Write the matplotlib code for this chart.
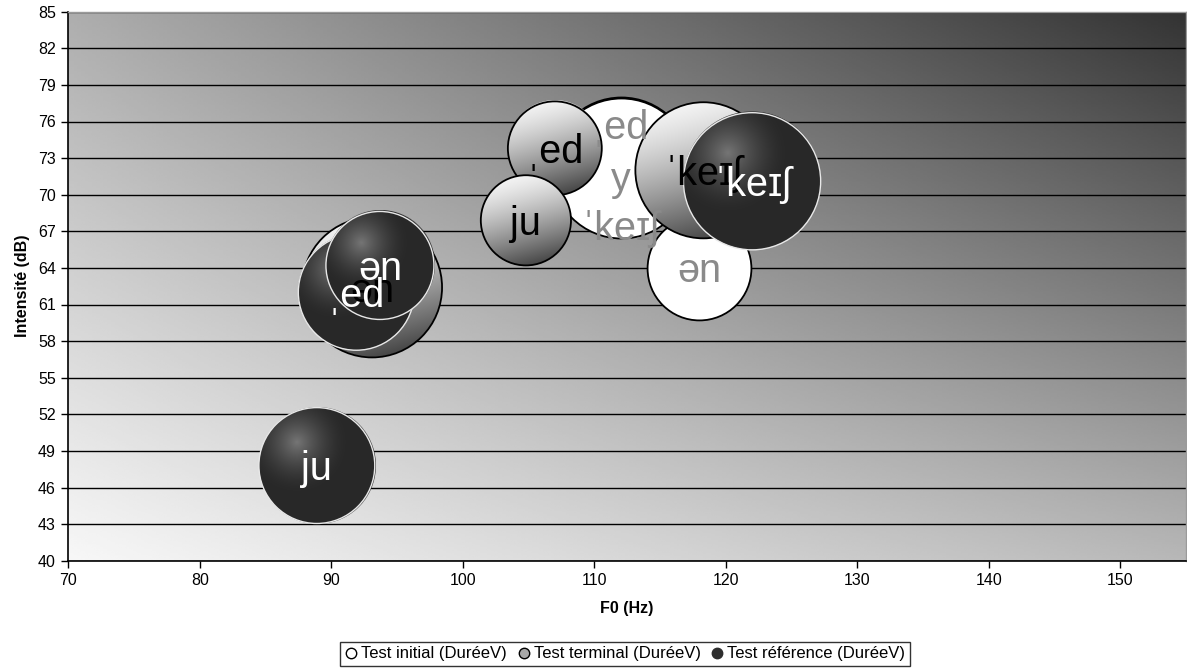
import numpy as np
import matplotlib
matplotlib.use("Agg")
import matplotlib.pyplot as plt
from matplotlib.lines import Line2D

plt.rcParams['font.family'] = ['Liberation Sans', 'DejaVu Sans']

# ---------------- data ----------------
init_labels = ["ˌed", "y", "ˈkeɪʃ", "ən"]
init_f0 = [112.0, 112.0, 112.0, 118.0]
init_db = [72.3, 72.5, 72.2, 64.0]
init_dur = [200, 165, 200, 110]

term_labels = ["ən", "ˌed", "ju", "ˈkeɪʃ"]
term_f0 = [93.1, 107.0, 104.8, 118.3]
term_db = [62.4, 73.8, 67.9, 72.0]
term_dur = [200, 90, 83, 189]

ref_labels = ["ju", "ˌed", "ən", "ˈkeɪʃ"]
ref_f0 = [88.9, 91.9, 93.7, 122.0]
ref_db = [47.8, 62.0, 64.2, 71.1]
ref_dur = [137, 137, 119, 192]

series_names = ["Test initial (DuréeV)", "Test terminal (DuréeV)", "Test référence (DuréeV)"]
x_ticks = list(range(70, 151, 10))
y_ticks = list(range(40, 86, 3))

# ---------------- figure ----------------
W, H, DPI = 1187, 671, 100
fig = plt.figure(figsize=(W / DPI, H / DPI), dpi=DPI)
fig.patch.set_facecolor("white")
ax = fig.add_axes([68.3 / W, 1 - 560.7 / H, (1186 - 68.3) / W, (560.7 - 11.7) / H])
ax.set_xlim(70, 155)
ax.set_ylim(40, 85)
ax.set_autoscale_on(False)

# background diagonal gradient
n = 300
u = np.linspace(0, 1, n)[None, :]
v = np.linspace(1, 0, n)[:, None]
bl, tl, br, tr = 0.97, 0.68, 0.72, 0.20
bg = bl * (1 - u) * (1 - v) + tl * (1 - u) * v + br * u * (1 - v) + tr * u * v
ax.imshow(bg, cmap="gray", vmin=0, vmax=1, extent=[0, 1, 0, 1], transform=ax.transAxes,
          aspect="auto", zorder=0.1, interpolation="bilinear")

ax.set_axisbelow(True)
ax.yaxis.grid(True, color="black", lw=1)
ax.xaxis.grid(False)
ax.set_xticks(x_ticks)
ax.set_yticks(y_ticks)
ax.tick_params(axis="both", direction="out", length=5, width=1, color="black",
               labelsize=11.5, pad=4)
for s in ["left", "bottom"]:
    ax.spines[s].set_color("black")
    ax.spines[s].set_linewidth(1.2)
for s in ["top", "right"]:
    ax.spines[s].set_color("#9a9a9a")
    ax.spines[s].set_linewidth(1)

ax.set_xlabel("F0 (Hz)", fontsize=11.5, fontweight="bold", labelpad=9)
ax.set_ylabel("Intensité (dB)", fontsize=11.5, fontweight="bold", labelpad=6)

RMAX = 70.0  # pixel radius of the largest bubble
DMAX = max(init_dur + term_dur + ref_dur)
LABEL_FS = 28.5
BASE_OFF = -0.36 * LABEL_FS  # baseline below bubble centre (points)


def radius_px(d):
    return RMAX * np.sqrt(d / DMAX)


def bubble_image(r, kind):
    m = int(np.ceil(2 * r))
    c = (np.arange(m) + 0.5 - m / 2) / r
    X, Y = np.meshgrid(c, -c)
    d = np.sqrt(X ** 2 + Y ** 2)
    alpha = np.clip((1 - d) * r + 0.5, 0, 1)
    if kind == "terminal":
        t = np.clip((1 - 0.92 * Y + 0.25 * X) / 2.2, 0, 1)
        val = 0.96 - 0.80 * t ** 1.3
    else:
        dh = np.sqrt((X + 0.35) ** 2 + (Y - 0.4) ** 2)
        val = 0.16 + 0.30 * np.clip(1 - dh / 0.85, 0, 1) ** 1.6
    rgba = np.zeros((m, m, 4))
    rgba[..., 0] = rgba[..., 1] = rgba[..., 2] = val
    rgba[..., 3] = alpha
    return rgba


inv = ax.transData.inverted()


def draw_series(xs, ys, ds, labels, kind, zbase, txtcolor, offsets=None):
    for i, (x, y, d, lab) in enumerate(zip(xs, ys, ds, labels)):
        r = radius_px(d)
        z = zbase + i * 0.01
        diam_pt = 2 * r * 72 / DPI
        if kind == "initial":
            ax.scatter([x], [y], s=diam_pt ** 2, facecolor="white", edgecolor="black",
                       linewidths=1.3, zorder=z)
        else:
            cx, cy = ax.transData.transform((x, y))
            m = int(np.ceil(2 * r))
            (x0, y0) = inv.transform((cx - m / 2, cy - m / 2))
            (x1, y1) = inv.transform((cx + m / 2, cy + m / 2))
            ax.imshow(bubble_image(r, kind), extent=[x0, x1, y0, y1], aspect="auto",
                      zorder=z, interpolation="bilinear")
            ec = "black" if kind == "terminal" else "#e8e8e8"
            lw = 1.3 if kind == "terminal" else 1.0
            ax.scatter([x], [y], s=diam_pt ** 2, facecolor="none", edgecolor=ec,
                       linewidths=lw, zorder=z + 0.005)
        off = BASE_OFF
        if offsets and offsets[i] is not None:
            off = offsets[i]
        ax.annotate(lab, (x, y), xytext=(0, off), textcoords="offset points",
                    ha="center", va="baseline", fontsize=LABEL_FS, color=txtcolor,
                    zorder=10)


draw_series(init_f0, init_db, init_dur, init_labels, "initial", 2, "#8a8a8a",
            offsets=[20, -19, -52, None])
draw_series(term_f0, term_db, term_dur, term_labels, "terminal", 3, "black")
draw_series(ref_f0, ref_db, ref_dur, ref_labels, "ref", 4, "white")

handles = [
    Line2D([], [], ls="none", marker="o", markersize=7.5, markerfacecolor="white",
           markeredgecolor="black", markeredgewidth=1),
    Line2D([], [], ls="none", marker="o", markersize=7.5, markerfacecolor="#a8a8a8",
           markeredgecolor="black", markeredgewidth=1),
    Line2D([], [], ls="none", marker="o", markersize=7.5, markerfacecolor="#2e2e2e",
           markeredgecolor="#2e2e2e", markeredgewidth=1),
]
leg = fig.legend(handles, series_names, loc="lower center", bbox_to_anchor=(625 / W, 0.003),
                 ncol=3, fontsize=12, frameon=True, fancybox=False, handlelength=0.8,
                 handletextpad=0.2, columnspacing=0.6, borderpad=0.25, borderaxespad=0.2)
leg.get_frame().set_edgecolor("black")
leg.get_frame().set_linewidth(1)

fig.savefig("out.png", dpi=DPI)
